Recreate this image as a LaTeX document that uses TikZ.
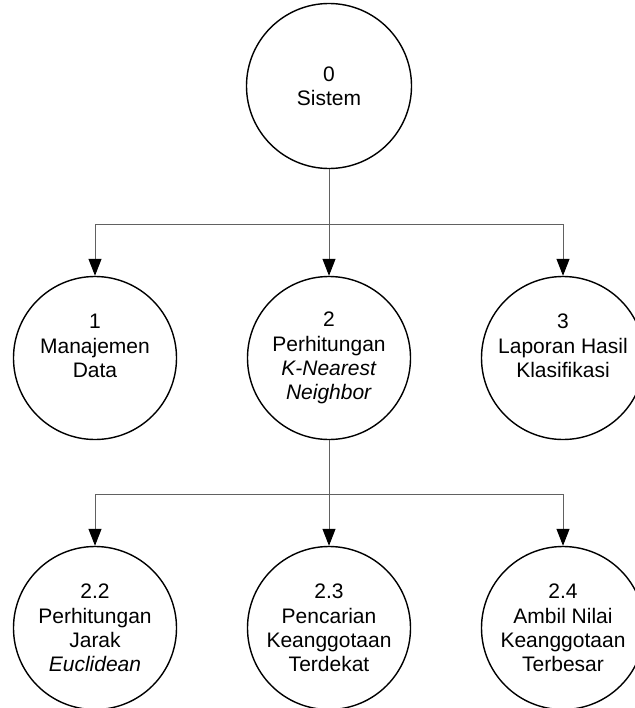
\documentclass[tikz,border=0pt]{standalone}
\usepackage{fontspec}
\setmainfont{Liberation Sans}
\usetikzlibrary{arrows.meta}

\begin{document}
\begin{tikzpicture}[x=1bp,y=-1bp,
  proc/.style={circle,draw=black,line width=1.4bp,minimum size=163bp,inner sep=0pt,
    align=center,font=\fontsize{21bp}{24.3bp}\selectfont},
  flow/.style={draw=black!62,line width=1bp,
    -{Triangle[length=17bp,width=13bp,fill=black,color=black]}},
  link/.style={draw=black!62,line width=1bp}]
  \clip (0,0) rectangle (635,708);
  \fill[white] (0,0) rectangle (635,708);

  % context process
  \node[proc,minimum size=165bp] (p0) at (329,86) {0\\Sistem};

  % level-1 processes
  \node[proc] (p1) at (95,358) {1\\Manajemen\\Data\\\mbox{}};
  \node[proc] (p2) at (329,358) {2\\Perhitungan\\\textit{K-Nearest}\\\textit{Neighbor}};
  \node[proc] (p3) at (563,358) {3\\Laporan Hasil\\Klasifikasi\\\mbox{}};

  % level-2 processes under process 2
  \node[proc] (p22) at (95,628) {2.2\\Perhitungan\\Jarak\\\textit{Euclidean}};
  \node[proc] (p23) at (329,628) {2.3\\Pencarian\\Keanggotaan\\Terdekat};
  \node[proc] (p24) at (563,628) {2.4\\Ambil Nilai\\Keanggotaan\\Terbesar};

  % branching connectors
  \coordinate (j0) at (329,224);
  \coordinate (j2) at (329,494);

  \draw[link] (p0.south) -- (j0);
  \draw[flow] (j0) -| (p1.north);
  \draw[flow] (j0) -- (p2.north);
  \draw[flow] (j0) -| (p3.north);

  \draw[link] (p2.south) -- (j2);
  \draw[flow] (j2) -| (p22.north);
  \draw[flow] (j2) -- (p23.north);
  \draw[flow] (j2) -| (p24.north);
\end{tikzpicture}
\end{document}
